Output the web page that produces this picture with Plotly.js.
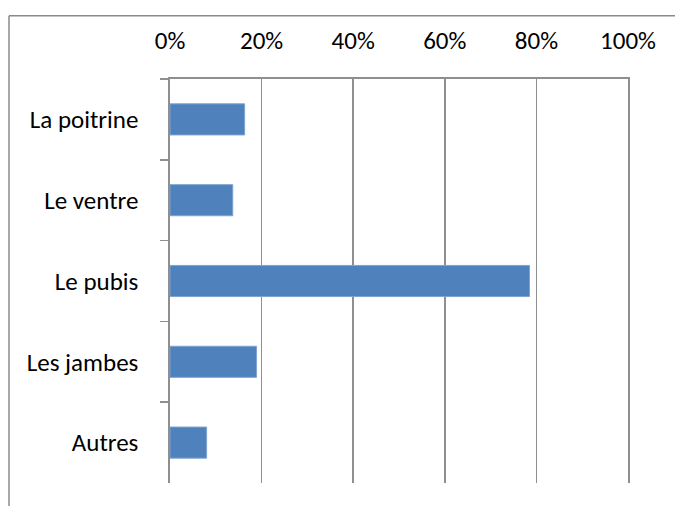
<!DOCTYPE html>
<html>
<head>
<meta charset="utf-8">
<script src="https://cdn.plot.ly/plotly-3.0.1.min.js"></script>
<style>
html,body{margin:0;padding:0;background:#fff;}
#chart{width:675px;height:506px;}
</style>
</head>
<body>
<div id="chart"></div>
<script>
const categories = ["La poitrine", "Le ventre", "Le pubis", "Les jambes", "Autres"];
const values = [0.163, 0.137, 0.785, 0.189, 0.080];
const tickVals = [0, 0.2, 0.4, 0.6, 0.8, 1.0];
const tickText = ["0%", "20%", "40%", "60%", "80%", "100%"];

const fontFam = "Carlito, Calibri, Lato, sans-serif";

const trace = {
  type: "bar",
  orientation: "h",
  x: values,
  y: categories,
  width: 0.385,
  marker: {color: "#4F81BD", line: {color: "#7FA3D0", width: 1}},
  hoverinfo: "none"
};

const layout = {
  width: 675,
  height: 506,
  margin: {l: 170, r: 47, t: 79, b: 23, pad: 0},
  paper_bgcolor: "#ffffff",
  plot_bgcolor: "#ffffff",
  showlegend: false,
  font: {family: fontFam, size: 25, color: "#000000"},
  xaxis: {
    side: "top",
    range: [0, 1],
    tickvals: tickVals,
    ticktext: tickText,
    showgrid: true,
    gridcolor: "#8f8f8f",
    gridwidth: 1.6,
    zeroline: false,
    showline: true,
    linecolor: "#8f8f8f",
    linewidth: 1.6,
    ticks: "",
    ticklabelstandoff: 18,
    tickfont: {family: fontFam, size: 25, color: "#000"},
    fixedrange: true
  },
  yaxis: {
    type: "category",
    autorange: "reversed",
    showgrid: false,
    zeroline: false,
    showline: true,
    mirror: true,
    linecolor: "#8f8f8f",
    linewidth: 1.6,
    ticks: "outside",
    tickson: "boundaries",
    ticklen: 8,
    tickwidth: 1.6,
    tickcolor: "#8f8f8f",
    ticklabelstandoff: 25,
    tickfont: {family: fontFam, size: 25, color: "#000"},
    fixedrange: true
  },
  shapes: [
    {type: "line", xref: "paper", yref: "paper", x0: -0.3515, x1: 1.12, y0: 1.1566, y1: 1.1566, line: {color: "#8a8a8a", width: 1.5}},
    {type: "line", xref: "paper", yref: "paper", x0: -0.3515, x1: -0.3515, y0: 1.1566, y1: -0.08, line: {color: "#8a8a8a", width: 1.5}}
  ]
};

Plotly.newPlot("chart", [trace], layout, {staticPlot: true, displayModeBar: false});
</script>
</body>
</html>
